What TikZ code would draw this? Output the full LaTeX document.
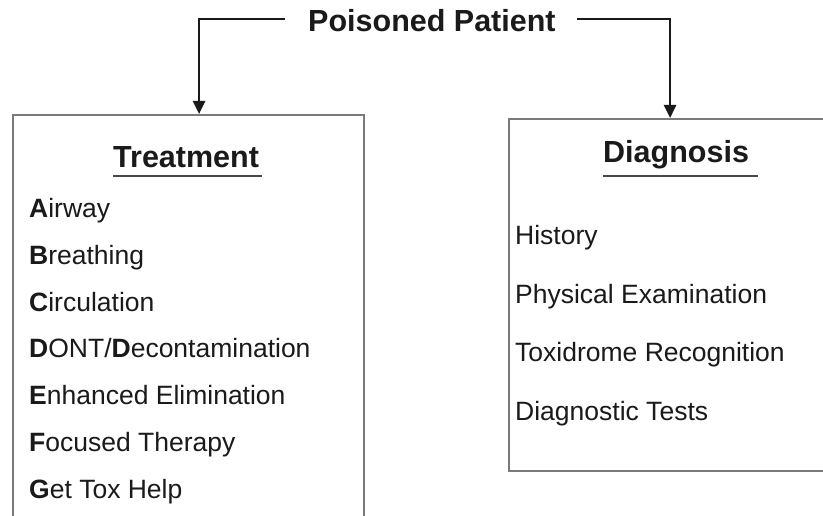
\documentclass[tikz,border=0pt]{standalone}
\usepackage{fontspec}
\setmainfont{Liberation Sans}
\usetikzlibrary{arrows.meta,calc}
\definecolor{boxgray}{HTML}{7A7A7A}
\definecolor{ink}{HTML}{1A1A1A}
\tikzset{
  boxnode/.style={draw=boxgray, line width=2.2pt, fill=none, inner sep=0pt},
  conn/.style={draw=ink, line width=2.6pt, -{Triangle[length=13pt,width=12pt]}},
  titletext/.style={font=\fontsize{30.5}{36}\selectfont\bfseries, text=ink, inner sep=0pt, anchor=base west},
  headtext/.style={font=\fontsize{30.5}{36}\selectfont\bfseries, text=ink, inner sep=0pt, anchor=base west},
  itemtext/.style={font=\fontsize{26.5}{32}\selectfont, text=ink, inner sep=0pt, anchor=base west},
  uline/.style={draw=ink!80, line width=2.6pt}
}
\begin{document}
\begin{tikzpicture}[x=1pt,y=1pt]
\useasboundingbox (0,0) rectangle (823,516);
\clip (0,0) rectangle (823,516);
\fill[white] (0,0) rectangle (823,516);
% boxes
\node[boxnode, minimum width=351pt, minimum height=420pt, anchor=north west] (tbox) at (12,402) {};
\node[boxnode, minimum width=322pt, minimum height=352pt, anchor=north west] (dbox) at (508,398) {};
% title
\node[titletext] (title) at (308,484) {Poisoned Patient};
\coordinate (lstart) at ([xshift=-23pt,yshift=2pt]title.west);
\coordinate (rstart) at ([xshift=21pt,yshift=2pt]title.east);
\draw[conn] (lstart) -| ([xshift=10.5pt]tbox.north);
\draw[conn] (rstart) -| (dbox.north);
% treatment
\node[headtext] (thead) at (113,348) {Treatment};
\draw[uline] ([yshift=-8pt]thead.base west) -- ([xshift=3pt,yshift=-8pt]thead.base east);
\node[itemtext] (t1) at (29,298) {\textbf{A}irway};
\node[itemtext] (t2) at (29,251) {\textbf{B}reathing};
\node[itemtext] (t3) at (29,204) {\textbf{C}irculation};
\node[itemtext] (t4) at (29,158) {\textbf{D}ONT/\textbf{D}econtamination};
\node[itemtext] (t5) at (29,111) {\textbf{E}nhanced Elimination};
\node[itemtext] (t6) at (29,64) {\textbf{F}ocused Therapy};
\node[itemtext] (t7) at (29,17) {\textbf{G}et Tox Help};
% diagnosis
\node[headtext] (dhead) at (603,353) {Diagnosis};
\draw[uline] ([yshift=-13pt]dhead.base west) -- ([xshift=9pt,yshift=-13pt]dhead.base east);
\node[itemtext] (d1) at (515,271) {History};
\node[itemtext] (d2) at (515,212) {Physical Examination};
\node[itemtext] (d3) at (515,154) {Toxidrome Recognition};
\node[itemtext] (d4) at (515,95) {Diagnostic Tests};
\end{tikzpicture}
\end{document}
